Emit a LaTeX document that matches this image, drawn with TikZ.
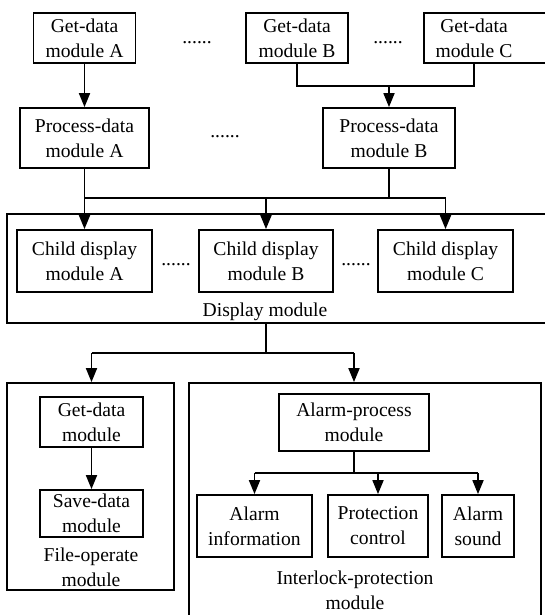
\documentclass[tikz,border=0pt]{standalone}
\usepackage{fontspec}
\setmainfont{Liberation Serif}
\usetikzlibrary{arrows.meta,positioning,fit}
\tikzset{
  mod/.style  = {rectangle, draw, line width=0.9pt, align=center, inner sep=0pt,
                 font=\fontsize{9.8}{12.5}\selectfont},
  txt/.style  = {align=center, inner sep=0pt, font=\fontsize{9.8}{12.5}\selectfont},
  grp/.style  = {rectangle, draw, line width=0.9pt, inner sep=0pt},
  dots/.style = {inner sep=0pt, font=\fontsize{9.8}{12.5}\selectfont},
  fl/.style   = {line width=0.9pt},
  arr/.style  = {fl, -{Triangle[length=7pt,width=5.5pt]}},
}
\begin{document}
\begin{tikzpicture}[x=0.5pt, y=-0.5pt]
  \useasboundingbox (0,0) rectangle (545,615);
  \coordinate (m1) at (0,86);
  \coordinate (bus) at (0,198);
  \coordinate (split) at (0,353);
  \coordinate (bus2) at (0,473);

  \node[mod, minimum width=51pt, minimum height=25pt] (ga) at (84.5,38) {Get-data\\module A};
  \node[mod, minimum width=51pt, minimum height=25pt] (gb) at (297,38) {Get-data\\module B};
  \node[grp, fit={(424,13) (552,63)}] (gcbox) {};
  \node[txt] (gc) at (474,38) {Get-data\\module C};
  \node[dots] (d1) at (197,43) {......};
  \node[dots] (d2) at (388,43) {......};

  \node[mod, minimum width=64.5pt, minimum height=30pt] (pa) at (84.5,138) {Process-data\\module A};
  \node[mod, minimum width=66pt, minimum height=30pt] (pb) at (389,138) {Process-data\\module B};
  \node[dots] (d3) at (225,137) {......};

  \node[grp, fit={(7,214) (552,323)}] (disp) {};
  \node[mod, minimum width=67.5pt, minimum height=31pt] (ca) at (84.5,261) {Child display\\module A};
  \node[mod, minimum width=67pt, minimum height=31pt] (cb) at (266,261) {Child display\\module B};
  \node[mod, minimum width=67.5pt, minimum height=31pt] (cc) at (445.5,261) {Child display\\module C};
  \node[dots] (d4) at (176,265) {......};
  \node[dots] (d5) at (356,265) {......};
  \node[txt] (dl) at (265,312) {Display module};

  \node[grp, fit={(7,383) (174,590)}] (fo) {};
  \node[mod, minimum width=51.5pt, minimum height=25pt] (gd) at (91.5,422) {Get-data\\module};
  \node[mod, minimum width=51.5pt, minimum height=23.5pt] (sd) at (91.5,513.5) {Save-data\\module};
  \node[txt] (fol) at (91,567.5) {File-operate\\module};

  \node[grp, fit={(189,383) (541,640)}] (il) {};
  \node[mod, minimum width=75pt, minimum height=28.5pt] (ap) at (354,422.5) {Alarm-process\\module};
  \node[mod, minimum width=57.5pt, minimum height=31pt] (ai) at (254.5,526) {Alarm\\information};
  \node[mod, minimum width=50pt, minimum height=31pt] (pc) at (378,526) {Protection\\control};
  \node[mod, minimum width=36pt, minimum height=31pt] (asnd) at (478,526) {Alarm\\sound};
  \node[txt] (ill) at (355,590) {Interlock-protection\\module};

  \draw[arr] (ga) -- (pa);
  \draw[fl] (gb.south) -- (gb |- m1) -| (gc |- gcbox.south);
  \draw[arr] (pb |- m1) -- (pb.north);
  \draw[fl] (pa.south) -- (pa |- bus) -- (cc |- bus);
  \draw[fl] (pb.south) -- (pb |- bus);
  \foreach \c in {ca,cb,cc} \draw[arr] (\c |- bus) -- (\c.north);

  \draw[fl] (cb |- disp.south) -- (cb |- split);
  \draw[fl] (gd |- split) -- (ap |- split);
  \draw[arr] (gd |- split) -- (gd |- fo.north);
  \draw[arr] (ap |- split) -- (ap |- il.north);

  \draw[arr] (gd) -- (sd);
  \draw[fl] (ap.south) -- (ap |- bus2);
  \draw[fl] (ai |- bus2) -- (asnd |- bus2);
  \foreach \n in {ai,pc,asnd} \draw[arr] (\n |- bus2) -- (\n.north);
\end{tikzpicture}
\end{document}
